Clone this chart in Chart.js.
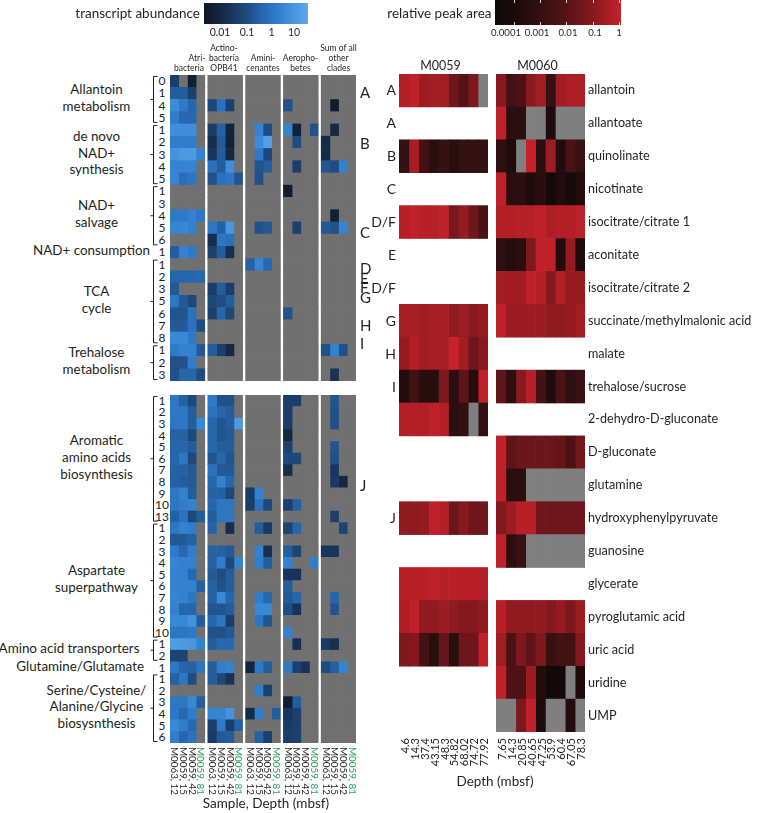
<!DOCTYPE html>
<html><head><meta charset="utf-8">
<script src="https://cdn.jsdelivr.net/npm/chart.js@4.4.0/dist/chart.umd.min.js"></script>
<style>
html,body{margin:0;padding:0;background:#fff;}
#wrap{position:relative;width:760px;height:813px;overflow:hidden;font-family:Lato,"Open Sans",sans-serif;color:#231f20;}
.t{position:absolute;white-space:nowrap;line-height:1;}
canvas{position:absolute;}
svg{position:absolute;left:0;top:0;}
</style></head><body><div id="wrap"></div>
<script>
const _ = null;
// ---------- LEFT PANEL DATA (transcript abundance) ----------
const cladeNames = [['Atri-','bacteria'],['Actino-','bacteria','OPB41'],['Amini-','cenantes'],['Aeropho-','betes'],['Sum of all','other','clades']];
const sampleLabels = ['M0063, 12','M0059, 15','M0059, 42','M0059, 81'];
const sampleGreen = [false,false,false,true];
const groups1 = [
 {name:['Allantoin','metabolism'], rows:['0','1','4','5']},
 {name:['de novo','NAD+','synthesis'], rows:['1','2','3','4','5']},
 {name:['NAD+','salvage'], rows:['1','3','4','5','6']},
 {name:['NAD+ consumption'], rows:['1'], right:150},
 {name:['TCA','cycle'], rows:['1','2','3','5','6','7','8']},
 {name:['Trehalose','metabolism'], rows:['1','2','3']}
];
const groups2 = [
 {name:['Aromatic','amino acids','biosynthesis'], rows:['1','2','3','4','5','6','7','8','9','10','13']},
 {name:['Aspartate','superpathway'], rows:['1','2','3','4','5','6','7','8','9','10']},
 {name:['Amino acid transporters'], rows:['1','2'], right:139.5},
 {name:['Glutamine/Glutamate'], rows:['1'], right:144},
 {name:['Serine/Cysteine/','Alanine/Glycine','biosysnthesis'], rows:['1','2','3','4','5','6']}
];
// each row: Atri x4, Actino x4, Amini x4, Aeropho x4, Sum x4 (null = not detected)
const transcripts1 = [
 [0.05,_,0.005,_, _,_,_,_, _,_,_,_, _,_,_,_, _,_,_,_],
 [0.3,0.3,0.06,_, _,_,_,_, _,_,_,_, _,_,_,_, _,_,_,_],
 [5,1.6,0.5,_, 0.1,1,0.06,_, _,_,_,_, 0.16,_,_,_, _,0.004,_,_],
 [2,0.6,0.6,_, _,_,_,_, _,_,_,_, _,_,_,_, _,_,_,_],
 [6,6,6,_, 0.05,0.4,0.008,_, _,3,0.13,_, 3,0.006,_,0.16, _,0.01,_,_],
 [2,2,2,_, 0.016,0.25,0.006,_, _,5,20,_, _,0.13,_,_, 0.013,_,_,_],
 [8,13,13,2.5, 0.03,0.3,0.01,_, _,1.6,0.1,_, _,_,_,_, 0.013,_,_,_],
 [3,3,3,_, 1,0.3,6,_, _,0.2,0.3,_, _,0.05,_,_, 0.2,0.13,2.5,_],
 [3,0.8,1.3,_, 0.16,1,1.3,0.2, _,0.16,_,_, _,_,_,_, _,_,_,_],
 [_,_,_,_, _,_,_,_, _,_,_,_, 0.004,_,_,_, _,_,_,_],
 [_,_,_,_, _,_,_,_, _,_,_,_, _,_,_,_, _,_,_,_],
 [1.6,1.6,2.5,1.3, _,_,_,_, _,_,_,_, _,_,_,_, _,0.005,_,_],
 [3,4,2.5,_, 1.3,0.4,10,_, _,0.16,0.25,_, _,0.06,_,_, 0.25,0.16,3,_],
 [_,_,_,_, 0.016,1.3,1,_, _,_,_,_, _,_,_,_, _,_,_,_],
 [0.3,2.5,1.6,_, 0.06,0.3,0.02,_, _,_,_,_, _,_,_,_, _,_,_,_],
 [_,_,_,_, _,_,_,_, 0.4,3,0.6,_, _,_,_,_, _,_,_,_],
 [0.5,0.5,0.5,0.6, _,_,_,_, _,_,_,_, _,_,_,_, _,_,_,_],
 [0.25,_,_,_, 0.05,0.3,0.05,_, _,_,_,_, _,_,_,_, _,_,_,_],
 [1.3,0.25,0.1,_, 0.1,0.13,0.3,_, _,_,_,_, _,_,_,_, _,_,_,_],
 [0.2,0.2,1,_, 0.06,0.5,0.1,_, _,_,_,_, 0.2,_,_,_, _,_,_,_],
 [0.25,0.25,1,0.13, _,_,_,_, _,_,_,_, _,_,_,_, _,_,_,_],
 [4,4,1.6,_, _,_,_,_, _,_,_,_, _,_,_,_, _,_,_,_],
 [1.6,2.5,2.5,0.25, 0.3,0.06,0.01,_, _,_,_,_, _,_,_,_, 0.16,2.5,0.16,_],
 [0.16,0.16,2,_, _,_,_,_, _,_,_,_, _,_,_,_, _,_,_,_],
 [0.16,0.5,0.5,0.13, _,_,_,_, _,_,_,_, _,_,_,_, _,0.025,_,_]
];
const transcripts2 = [
 [1.3,0.4,0.1,_, 1.6,0.16,0.16,_, _,_,_,_, 0.05,0.05,_,_, _,0.2,_,_],
 [1.3,1.3,0.3,_, 1,0.5,0.3,_, _,_,_,_, 0.05,_,_,_, _,0.16,_,_],
 [1.3,1.3,0.3,4, 0.5,0.2,0.3,13, _,_,_,_, 0.05,_,_,_, _,0.16,_,_],
 [0.4,0.4,0.1,_, 0.5,0.2,0.25,_, _,_,_,_, 0.01,_,_,_, _,_,_,_],
 [0.5,0.5,0.3,_, 0.5,0.3,0.3,_, _,_,_,_, 0.06,_,_,_, _,0.2,_,_],
 [0.5,1.3,0.1,_, 0.2,0.5,0.2,_, _,_,_,_, 0.1,0.1,_,_, _,0.16,_,_],
 [0.4,0.4,0.25,_, 1,0.25,0.25,_, _,_,_,_, 0.016,_,_,_, _,0.03,_,_],
 [0.4,0.3,0.25,_, 0.5,2.5,0.5,_, _,_,_,_, _,_,_,_, _,0.04,0.01,_],
 [1.3,2.5,0.3,_, 0.4,0.4,0.1,_, 0.04,2.5,_,_, _,_,_,_, _,_,_,_],
 [1.3,2,2.5,_, 0.5,1.3,1.3,_, 0.05,1,0.1,_, 0.06,0.4,_,_, _,_,_,_],
 [0.4,1,0.1,0.3, 0.3,1.3,1.3,_, _,_,_,_, _,_,_,_, _,0.06,_,_],
 [1.3,2.5,2,_, 0.4,_,0.016,_, _,0.3,0.04,_, 0.08,0.5,_,_, _,_,0.08,_],
 [0.25,0.25,0.4,_, _,_,_,_, _,_,_,_, _,_,_,_, _,_,_,_],
 [1.6,0.6,2,_, 0.4,0.4,0.25,_, _,2.5,0.02,_, 0.3,0.08,_,_, 0.03,0.03,_,_],
 [3,2.5,2.5,_, 0.4,2,0.1,3, _,2,0.3,_, 2.5,_,_,2, _,_,_,_],
 [2.5,2.5,0.6,_, 0.25,0.13,0.3,_, _,_,_,_, 0.025,0.025,_,_, _,_,_,_],
 [2.5,2.5,2.5,0.4, 0.4,0.16,0.3,_, _,_,_,_, 0.3,_,_,_, _,_,_,_],
 [3,2.5,1.3,_, 0.4,4,0.5,_, _,2,0.6,_, 0.25,0.5,_,_, _,0.5,_,_],
 [2.5,0.5,0.5,_, 0.2,0.2,0.3,_, _,4,4,_, 0.13,0.025,_,_, _,0.2,_,_],
 [4,4,8,0.3, 0.5,1.3,0.05,_, _,1.3,0.2,_, _,_,_,_, _,_,_,_],
 [1.3,1.3,1.6,_, 0.16,0.16,0.25,_, _,_,_,_, 2.5,_,_,_, _,_,_,_],
 [16,13,10,2.5, 0.3,0.6,0.6,_, _,_,_,_, _,0.02,_,_, 0.04,0.02,_,_],
 [0.08,0.08,_,_, _,_,_,_, _,_,_,_, _,_,_,_, _,_,_,_],
 [1.3,0.5,0.4,1.3, 0.3,2,2.5,_, 0.008,1.6,0.3,_, 1.6,0.06,0.025,_, 0.13,0.4,3,_],
 [0.4,1.3,0.13,_, 0.3,0.1,0.025,_, _,_,_,_, _,_,_,_, _,_,_,_],
 [_,_,_,_, _,_,_,_, _,2,0.06,_, _,_,_,_, _,_,_,_],
 [1.3,1.3,4,0.3, _,_,_,_, _,_,_,_, 0.004,0.3,_,_, _,_,_,_],
 [1.3,0.6,2,_, 3,3,8,_, 0.013,2,_,0.3, 0.03,0.06,_,_, _,_,_,_],
 [4,2,0.6,_, 0.05,1.6,0.05,0.4, _,_,_,_, 0.04,0.06,_,_, _,_,_,_],
 [2,0.5,1,_, 0.04,0.25,0.3,_, _,0.4,0.06,_, 0.05,0.06,_,_, _,_,_,_]
];
const letters1 = [['A',92],['B',143],['C',232],['D',268],['E',277.5],['F',287],['G',296.5],['H',325],['I',342.5],['J',485]];

// ---------- RIGHT PANEL DATA (relative peak area) ----------
const metabolites = ['allantoin','allantoate','quinolinate','nicotinate','isocitrate/citrate 1','aconitate','isocitrate/citrate 2','succinate/methylmalonic acid','malate','trehalose/sucrose','2-dehydro-D-gluconate','D-gluconate','glutamine','hydroxyphenylpyruvate','guanosine','glycerate','pyroglutamic acid','uric acid','uridine','UMP'];
const rowLetters = ['A','A','B','C','D/F','E','D/F','G','H','I','','','','J','','','','','',''];
const depthsM0059 = ['4.6','14.3','37.4','43.15','48.3','54.82','68.02','74.72','77.92'];
const depthsM0060 = ['7.65','14.3','20.85','40.65','47.25','53.9','60.4','67.05','78.3'];
const peakM0059 = [
 [0.5,0.8,0.2,0.25,0.25,0.03,0.01,0.06,_],
 _,
 [0.001,0.3,0.0025,0.0004,0.001,0.0004,0.001,0.001,0.001],
 _,
 [0.6,0.8,0.6,0.6,0.8,0.05,0.16,0.03,0.005],
 _,
 _,
 [0.3,0.3,0.25,0.3,0.3,0.13,0.2,0.1,0.16],
 [0.16,0.5,0.25,0.3,0.3,1,0.25,0.03,0.1],
 [0.00025,0.0025,0.0004,0.0004,0.06,0.0005,0.016,0.0003,0.8],
 [0.5,0.5,0.5,0.8,0.5,0.0005,0.001,_,0.001],
 _,
 _,
 [0.13,0.13,0.16,0.8,0.5,0.025,0.1,0.03,0.03],
 _,
 [0.6,0.6,0.6,0.8,0.6,0.6,0.6,0.6,0.5],
 [0.4,0.8,0.13,0.13,0.2,0.13,0.08,0.08,0.13],
 [0.06,0.08,0.003,0.0004,0.02,0.0004,0.03,0.03,0.8],
 _,
 _
];
const peakM0060 = [
 [0.1,0.0025,0.006,0.1,0.25,0.0013,0.25,0.4,0.4],
 [0.8,0.0005,0.0005,_,_,0.00016,_,_,_],
 [0.0006,0.00016,_,1,0.0005,0.2,0.00025,0.005,0.0013],
 [0.8,0.0005,0.0005,0.00016,0.0004,0.00005,0.00025,0.00008,0.00025],
 [0.5,0.5,0.6,0.6,0.8,0.4,0.5,0.5,0.8],
 [0.0006,0.00025,0.0005,0.06,0.8,0.8,0.00025,0.16,0.00016],
 [0.25,0.25,0.25,0.8,0.5,0.08,0.5,0.16,0.16],
 [0.8,0.2,0.2,0.2,0.2,0.13,0.13,0.16,0.25],
 _,
 [0.016,0.0006,0.1,0.6,0.003,0.00016,0.005,0.0006,0.0016],
 _,
 [0.8,0.013,0.025,0.025,0.025,0.025,0.02,0.006,0.04],
 [0.8,0.0005,0.0005,_,_,_,_,_,_],
 [0.08,0.2,0.6,0.6,0.03,0.03,0.03,0.03,0.03],
 [0.8,0.0005,0.0016,_,_,_,_,_,_],
 _,
 [0.6,0.13,0.13,0.13,0.13,0.08,0.16,0.06,0.2],
 [0.25,0.005,0.06,0.016,0.06,0.0013,0.003,0.0025,0.08],
 [0.8,0.006,0.006,0.2,0.0002,0.00004,0.00004,_,0.00013],
 [_,_,0.06,0.8,0.00016,_,_,0.00025,_]
];
const blueTicks = ['0.01','0.1','1','10'];
const redTicks = ['0.0001','0.001','0.01','0.1','1'];

// ---------- colour scales ----------
const blueStops = [[-2.65,'#0d1625'],[-2,'#142840'],[-1.5,'#183660'],[-1,'#1d4878'],[-0.5,'#245e9e'],[0,'#2a72bd'],[0.5,'#3585d3'],[1,'#4896de'],[1.55,'#60a9ea']];
const redStops = [[-4.7,'#0d0808'],[-4,'#1a0a0a'],[-3,'#331011'],[-2,'#561317'],[-1,'#881a1f'],[-0.5,'#a71d24'],[0,'#c5222b']];
const GRAY_L = '#707070', GRAY_R = '#7f7f7f';
function hex(h){return [1,3,5].map(i=>parseInt(h.slice(i,i+2),16));}
function cmap(stops, v){
  if (v<=stops[0][0]) return stops[0][1];
  if (v>=stops[stops.length-1][0]) return stops[stops.length-1][1];
  for (let i=1;i<stops.length;i++){
    if (v<=stops[i][0]){
      const t=(v-stops[i-1][0])/(stops[i][0]-stops[i-1][0]);
      const a=hex(stops[i-1][1]), b=hex(stops[i][1]);
      return 'rgb('+a.map((c,k)=>Math.round(c+(b[k]-c)*t)).join(',')+')';
    }
  }
}
const blueOf = v => v==null ? GRAY_L : cmap(blueStops, Math.log10(v));
const redOf = v => v==null ? GRAY_R : cmap(redStops, Math.log10(v));

// ---------- helpers ----------
const wrap = document.getElementById('wrap');
function txt(s,x,y,o={}){
  const d=document.createElement('div'); d.className='t'; d.textContent=s;
  d.style.fontSize=(o.size||13)+'px'; if(o.color) d.style.color=o.color;
  d.style.left=x+'px'; d.style.top=y+'px';
  if(o.rot===90){d.style.transformOrigin='0 0'; d.style.transform='rotate(90deg) translateY(-50%)';}
  else if(o.rot===-90){d.style.transformOrigin='0 0'; d.style.transform='rotate(-90deg) translateX(-100%) translateY(-50%)';}
  else { const ax=o.align==='left'?'0':o.align==='right'?'-100%':'-50%'; d.style.transform=`translate(${ax},-50%)`; }
  wrap.appendChild(d); return d;
}
function mkCanvas(l,t,w,h){const c=document.createElement('canvas'); c.width=w; c.height=h; c.style.left=l+'px'; c.style.top=t+'px'; c.style.width=w+'px'; c.style.height=h+'px'; wrap.appendChild(c); return c;}
function heatChart(canvas, rowLabels, colStarts, xMax, rowsData, colorOf){
  const datasets = colStarts.map((x0,j)=>({
    data: rowsData.map(r => r ? [x0, x0+1] : null),
    backgroundColor: rowsData.map(r => r ? colorOf(r[j]) : 'rgba(0,0,0,0)'),
    borderWidth:0, grouped:false, categoryPercentage:1, barPercentage:1
  }));
  return new Chart(canvas,{type:'bar',data:{labels:rowLabels,datasets},
    options:{indexAxis:'y',responsive:false,animation:false,events:[],layout:{padding:0},
      plugins:{legend:{display:false},tooltip:{enabled:false}},
      scales:{x:{type:'linear',min:0,max:xMax,display:false},y:{type:'category',display:false,offset:true}}}});
}

// ---------- LEFT heatmaps ----------
const gapU = 3/8.75;
const leftCols = []; for(let k=0;k<5;k++) for(let s=0;s<4;s++) leftCols.push(k*(4+gapU)+s);
const leftXMax = 20+4*gapU;
const LX=170, LW=186;
const L1 = {top:75, h:306}, L2 = {top:395, h:348};
const rows1 = groups1.flatMap((g,gi)=>g.rows.map(r=>gi+'_'+r));
const rows2 = groups2.flatMap((g,gi)=>g.rows.map(r=>gi+'_'+r));
heatChart(mkCanvas(LX,L1.top,LW,L1.h), rows1, leftCols, leftXMax, transcripts1, blueOf);
heatChart(mkCanvas(LX,L2.top,LW,L2.h), rows2, leftCols, leftXMax, transcripts2, blueOf);

// row numbers, brackets, group labels
let svg = '<svg width="760" height="813" xmlns="http://www.w3.org/2000/svg"><g stroke="#231f20" stroke-width="1" fill="none">';
function leftGroups(groups, blk, nRows){
  const rh = blk.h/nRows; let idx=0;
  groups.forEach(g=>{
    const i0=idx; g.rows.forEach(r=>{ txt(r,162,blk.top+rh*(idx+0.5),{size:12}); idx++; });
    const yT=blk.top+rh*i0+1.5, yB=blk.top+rh*idx-1.5, yM=(yT+yB)/2;
    if(g.rows.length>1){ svg+=`<path d="M157.5 ${yT} H153.5 V${yB} H157.5 M153.5 ${yM} H150.5"/>`; }
    const n=g.name.length, lh=16.7;
    g.name.forEach((s,li)=>{
      const y=yM+(li-(n-1)/2)*lh-1;
      if(g.right) txt(s,g.right,y,{size:13.4,align:'right'}); else txt(s,96.5,y,{size:13.4});
    });
  });
}
leftGroups(groups1,L1,rows1.length);
leftGroups(groups2,L2,rows2.length);
svg+='</g></svg>';
wrap.insertAdjacentHTML('beforeend',svg);

// clade headers
const unit = LW/leftXMax;
const cladeCx = [189,224,263,300.5,338.5];
cladeNames.forEach((lines,k)=>{
  const n=lines.length;
  lines.forEach((s,li)=>txt(s, k===0&&li===0?197:cladeCx[k], 68-(n-1-li)*10,{size:8.5}));
});
// sample labels under left panel
leftCols.forEach((x0,j)=>{
  const s=j%4;
  txt(sampleLabels[s], LX+(x0+0.5)*unit, 747,{size:9.8,rot:90,color:sampleGreen[s]?'#22a35a':null});
});
txt('Sample, Depth (mbsf)',266,804,{size:13.5});
letters1.forEach(([l,y])=>txt(l,360,y,{size:15,align:'left'}));

// ---------- RIGHT heatmaps ----------
const RT=74, RH=658, RW=89, R1X=399, R2X=496;
const rCols=[0,1,2,3,4,5,6,7,8];
heatChart(mkCanvas(R1X,RT,RW,RH), metabolites, rCols, 9, peakM0059, redOf);
heatChart(mkCanvas(R2X,RT,RW,RH), metabolites, rCols, 9, peakM0060, redOf);
const rrh = RH/metabolites.length;
metabolites.forEach((m,i)=>{
  const y=RT+rrh*(i+0.5);
  txt(m,588,y,{size:12.6,align:'left'});
  if(rowLetters[i]) txt(rowLetters[i],396,y,{size:14,align:'right'});
});
txt('M0059',R1X+RW/2-3,66,{size:12.5});
txt('M0060',R2X+RW/2-3,66,{size:12.5});
depthsM0059.forEach((d,c)=>txt(d,R1X+(c+0.5)*RW/9,738,{size:11,rot:-90}));
depthsM0060.forEach((d,c)=>txt(d,R2X+(c+0.5)*RW/9,738,{size:11,rot:-90}));
txt('Depth (mbsf)',495,782,{size:13.5});

// ---------- colour bars ----------
function colorbar(x,y,w,h,stops,vmin,vmax){
  const d=document.createElement('div');
  const g=stops.map(([v,c])=>`${c} ${((v-vmin)/(vmax-vmin)*100).toFixed(1)}%`).join(',');
  Object.assign(d.style,{position:'absolute',left:x+'px',top:y+'px',width:w+'px',height:h+'px',background:`linear-gradient(to right,${g})`});
  wrap.appendChild(d);
}
colorbar(204,3,104,21,blueStops,-2.65,1.55);
txt('transcript abundance',200,13.5,{size:13.5,align:'right'});
[220,247,271.5,294].forEach((x,i)=>txt(blueTicks[i],x,32,{size:10.5}));
colorbar(495,0,126,25,redStops,-4.7,0);
txt('relative peak area',491.5,13.5,{size:13.5,align:'right'});
[506,537,568,595,619].forEach((x,i)=>txt(redTicks[i],x,33,{size:9.6}));
[514,540,566,593,619].forEach(x=>{
  ['0px','22px'].forEach(t=>{const m=document.createElement('div');Object.assign(m.style,{position:'absolute',left:x+'px',top:t,width:'1px',height:'3px',background:'#fff',opacity:'0.8'});wrap.appendChild(m);});
});
</script></body></html>
